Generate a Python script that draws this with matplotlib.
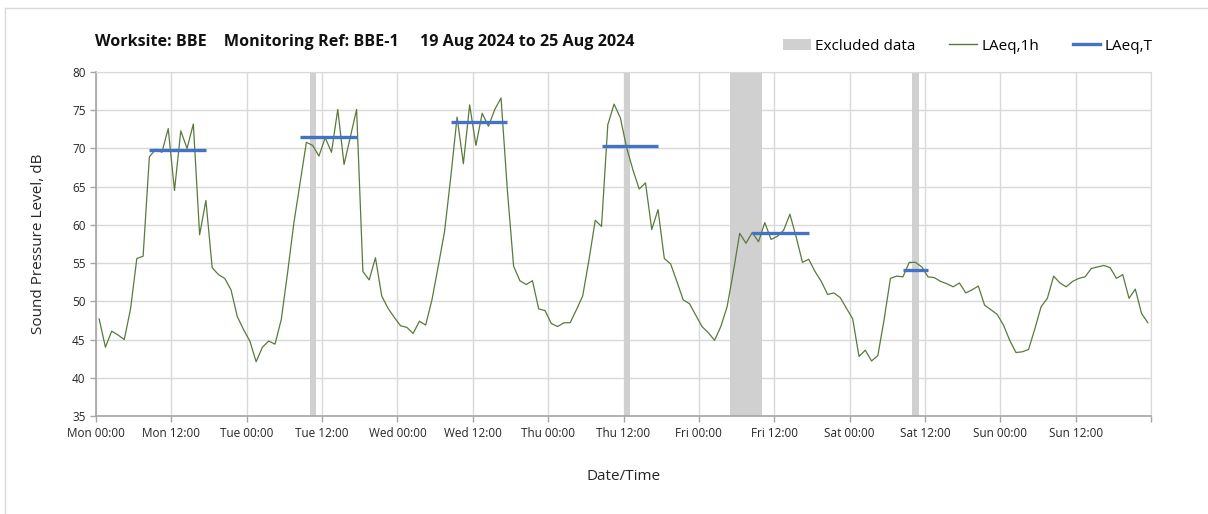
import matplotlib
matplotlib.use("Agg")
import matplotlib.pyplot as plt
from matplotlib.lines import Line2D
from matplotlib.patches import Patch
import numpy as np

# ---- data ----
laeq_1h = [
    47.7, 44.0, 46.1, 45.6, 45.0, 49.0, 55.6, 55.9, 68.9, 69.9, 69.5, 72.6,
    64.5, 72.3, 70.0, 73.2, 58.7, 63.2, 54.4, 53.5, 53.0, 51.5, 48.0, 46.3,
    44.8, 42.1, 44.0, 44.8, 44.4, 47.6, 53.7, 60.2, 65.5, 70.8, 70.4, 69.0,
    71.4, 69.5, 75.1, 67.9, 71.5, 75.1, 53.9, 52.8, 55.7, 50.7, 49.1, 47.9,
    46.8, 46.6, 45.8, 47.4, 46.9, 50.2, 54.6, 59.1, 66.3, 74.1, 68.0, 75.7,
    70.4, 74.6, 72.9, 75.1, 76.6, 64.6, 54.6, 52.7, 52.2, 52.7, 49.0, 48.8,
    47.1, 46.7, 47.2, 47.2, 48.9, 50.7, 55.4, 60.6, 59.8, 73.1, 75.8, 74.0,
    70.1, 67.2, 64.7, 65.5, 59.4, 62.0, 55.6, 54.9, 52.6, 50.2, 49.7, 48.2,
    46.7, 45.9, 44.9, 46.7, 49.3, 53.9, 58.9, 57.6, 59.0, 57.8, 60.3, 58.1,
    58.5, 59.3, 61.4, 58.4, 55.1, 55.5, 53.9, 52.6, 50.9, 51.1, 50.5, 49.1,
    47.7, 42.8, 43.6, 42.2, 42.9, 47.6, 53.0, 53.3, 53.2, 55.1, 55.1, 54.5,
    53.2, 53.1, 52.6, 52.3, 51.9, 52.4, 51.1, 51.5, 52.0, 49.5, 48.9, 48.3,
    46.9, 44.9, 43.3, 43.4, 43.7, 46.4, 49.3, 50.4, 53.3, 52.4, 51.9, 52.6,
    53.0, 53.2, 54.3, 54.5, 54.7, 54.4, 53.0, 53.5, 50.4, 51.6, 48.4, 47.2,
]
hours = list(range(len(laeq_1h)))

laeq_t_start = [8, 32, 56, 80, 104, 128]
laeq_t_end = [17, 41, 65, 89, 113, 132]
laeq_t_value = [69.8, 71.5, 73.4, 70.3, 58.9, 54.1]

excluded_start = [34, 84, 101, 130]
excluded_end = [35, 85, 106, 131]

tick_hours = list(range(0, 169, 12))
tick_labels = ["Mon 00:00", "Mon 12:00", "Tue 00:00", "Tue 12:00", "Wed 00:00",
               "Wed 12:00", "Thu 00:00", "Thu 12:00", "Fri 00:00", "Fri 12:00",
               "Sat 00:00", "Sat 12:00", "Sun 00:00", "Sun 12:00", ""]

title = "Worksite: BBE    Monitoring Ref: BBE-1     19 Aug 2024 to 25 Aug 2024"

# ---- style ----
plt.rcParams['font.family'] = ['Open Sans', 'DejaVu Sans']
W, H = 1208, 514
fig = plt.figure(figsize=(W / 100, H / 100), dpi=100)
ax = fig.add_axes([96 / W, 1 - 416 / H, (1151 - 96) / W, (416 - 72) / H])

green = '#5a7a3c'
blue = '#4472c4'
grey_span = '#d0d0d0'
grid_c = '#d9d9d9'
offset = 0.5

for s, e in zip(excluded_start, excluded_end):
    ax.axvspan(s, e, color=grey_span, lw=0, zorder=1)

x = np.array(hours) + offset
ax.plot(x, laeq_1h, color=green, lw=0.9, zorder=3)

for s, e, v in zip(laeq_t_start, laeq_t_end, laeq_t_value):
    ax.plot([s + offset, e + offset], [v, v], color=blue, lw=2.4,
            solid_capstyle='butt', zorder=4)

ax.set_xlim(0, 168)
ax.set_ylim(35, 80)
ax.set_yticks(range(35, 81, 5))
ax.set_xticks(tick_hours)
ax.set_xticklabels(tick_labels)
ax.grid(True, color=grid_c, lw=1.0, zorder=0)
ax.set_axisbelow(True)
for sp in ['top', 'right']:
    ax.spines[sp].set_color(grid_c)
for sp in ['left', 'bottom']:
    ax.spines[sp].set_color('#a6a6a6')
    ax.spines[sp].set_linewidth(1.2)
ax.tick_params(axis='both', colors='#a6a6a6', labelcolor='#262626',
               labelsize=8.5, length=4, width=1)
ax.tick_params(axis='x', pad=4)

ax.set_xlabel("Date/Time", fontsize=11, color='#262626', labelpad=21)
ax.set_ylabel("Sound Pressure Level, dB", fontsize=11, color='#262626', labelpad=19)

fig.text(95 / W, 1 - 42 / H, title, fontsize=11.6, fontweight='bold',
         color='#111111', ha='left', va='center')

handles = [Patch(facecolor=grey_span, edgecolor='none', label='Excluded data'),
           Line2D([0], [0], color=green, lw=1, label='LAeq,1h'),
           Line2D([0], [0], color=blue, lw=2.4, label='LAeq,T')]
fig.legend(handles=handles, loc='center', bbox_to_anchor=(968 / W, 1 - 46 / H),
           ncol=3, frameon=False, fontsize=11, handlelength=1.8,
           handletextpad=0.3, columnspacing=2.2, handleheight=0.7)

# figure border
fig.add_artist(Line2D([5 / W, 1], [1 - 8 / H, 1 - 8 / H], color='#d9d9d9', lw=1,
                      transform=fig.transFigure))
fig.add_artist(Line2D([5 / W, 5 / W], [0, 1 - 8 / H], color='#d9d9d9', lw=1,
                      transform=fig.transFigure))

fig.savefig("out.png", dpi=100)
